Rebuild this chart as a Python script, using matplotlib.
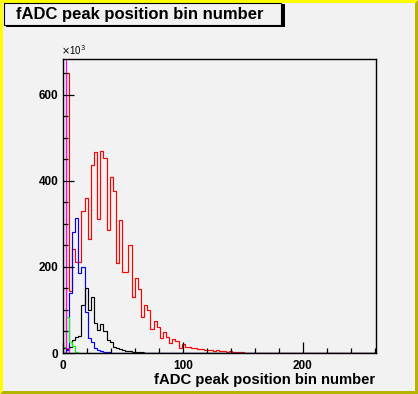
import numpy as np
import matplotlib
matplotlib.use('Agg')
import matplotlib.pyplot as plt
from matplotlib.patches import Rectangle, Polygon

plt.rcParams['font.family'] = ['Liberation Sans', 'DejaVu Sans']

W, H = 418, 394
n_bins = 100
x_max = 261.0

# bin contents (x10^3), one entry per bin from x=0
red = [0, 650, 143, 241, 212, 212, 331, 360, 265, 437, 468, 312, 470, 453,
       286, 410, 377, 210, 309, 189, 189, 250, 131, 174, 148, 84, 112, 100,
       55, 74, 61, 34, 49, 38, 24, 32, 27, 11, 20, 15, 14, 11, 11, 10, 9, 7,
       8, 6, 5, 6, 4, 5, 3, 4, 3, 2, 2, 2, 1, 1, 1, 1, 1, 1, 1]
blue = [0, 8, 139, 282, 313, 185, 201, 95, 34, 26, 12, 7, 4, 3, 2, 1]
black = [12, 10, 15, 30, 38, 40, 112, 150, 100, 130, 69, 53, 67, 50, 30, 25,
         13, 11, 9, 6, 5, 4, 3, 3, 2, 2, 1]
green = [15, 83, 26, 16, 2, 1]
magenta = [2000, 11, 1]

hists = [(red, '#ff0000'), (blue, '#0000ff'), (black, '#000000'),
         (green, '#00ff00'), (magenta, '#ff00ff')]

y_max = 650 * 1.05
bg = '#f2f2f2'


def pad(v):
    return np.array(v + [0] * (n_bins - len(v)), dtype=float)


def fx(px):
    return px / W


def fy(py):
    return 1 - py / H


fig = plt.figure(figsize=(W / 100, H / 100), dpi=100)
fig.patch.set_facecolor(bg)

# canvas bevel
b = 3
fig.add_artist(Polygon([(fx(0), fy(0)), (fx(W), fy(0)), (fx(W - b), fy(b)),
                        (fx(b), fy(b)), (fx(b), fy(H - b)), (fx(0), fy(H))],
                       closed=True, transform=fig.transFigure,
                       facecolor='#ffff00', edgecolor='none'))
fig.add_artist(Polygon([(fx(W), fy(H)), (fx(0), fy(H)), (fx(b), fy(H - b)),
                        (fx(W - b), fy(H - b)), (fx(W - b), fy(b)), (fx(W), fy(0))],
                       closed=True, transform=fig.transFigure,
                       facecolor='#b4b400', edgecolor='none'))

# title box with shadow
fig.add_artist(Rectangle((fx(6), fy(27)), (283 - 4) / W, 23 / H,
                         transform=fig.transFigure, facecolor='black',
                         edgecolor='none'))
fig.add_artist(Rectangle((fx(4), fy(25)), (281 - 4) / W, 22 / H,
                         transform=fig.transFigure, facecolor=bg,
                         edgecolor='black', linewidth=0.8))
fig.text(fx(16), fy(14), 'fADC peak position bin number', fontsize=12,
         fontweight='bold', ha='left', va='center')

ax = fig.add_axes([fx(62.7), fy(353), (376 - 62.7) / W, (353 - 59.3) / H])
ax.set_facecolor(bg)

edges = np.linspace(0, x_max, n_bins + 1)
for vals, col in hists:
    ax.stairs(pad(vals), edges, color=col, linewidth=0.85, baseline=None)

ax.set_xlim(0, x_max)
ax.set_ylim(0, y_max)

ax.set_xticks([0, 100, 200])
ax.set_xticks(np.arange(0, x_max, 20), minor=True)
ax.set_yticks([0, 200, 400, 600])
ax.set_yticks(np.arange(0, y_max, 50), minor=True)
ax.tick_params(which='both', direction='in', top=False, right=False,
               labelsize=8.5, width=0.9)
ax.tick_params(which='major', length=8)
ax.tick_params(axis='x', which='major', pad=5)
ax.tick_params(axis='y', which='major', pad=3)
ax.tick_params(which='minor', length=3.5)
for lab in ax.get_xticklabels() + ax.get_yticklabels():
    lab.set_fontweight('bold')
for s in ax.spines.values():
    s.set_linewidth(1.0)
    s.set_zorder(5)

fig.text(fx(61), fy(50), r'$\times$10$^{3}$', fontsize=7, ha='left',
         va='center')
fig.text(fx(375), fy(380), 'fADC peak position bin number', fontsize=10.7,
         fontweight='bold', ha='right', va='center')

fig.savefig('out.png', dpi=100, facecolor=fig.get_facecolor())
